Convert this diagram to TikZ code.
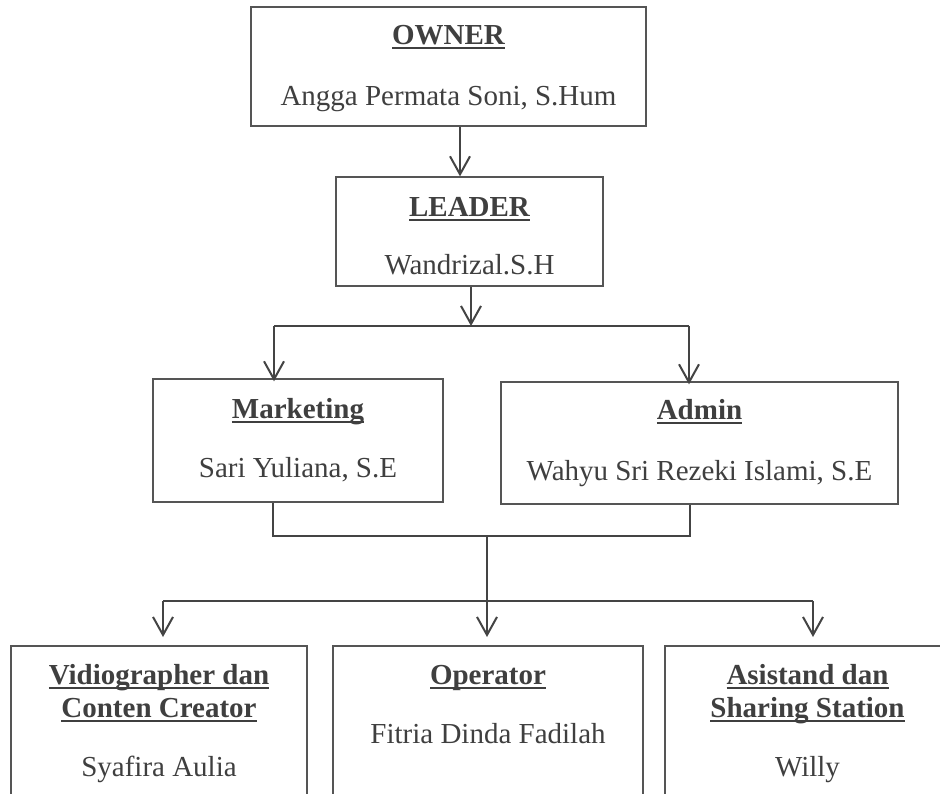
\documentclass[tikz,border=0pt]{standalone}
\usepackage{fontspec}
\setmainfont{Liberation Serif}
\usetikzlibrary{arrows.meta}
\definecolor{txt}{HTML}{3F3F3F}
\definecolor{ln}{HTML}{444444}
\definecolor{bx}{HTML}{555555}
\newcommand{\myul}[1]{\setbox0\hbox{#1}\rlap{\rule[-4.5pt]{\wd0}{2pt}}\box0}
\begin{document}
\begin{tikzpicture}[x=1pt,y=-1pt,
  boxn/.style={draw=bx, line width=1.3pt, rectangle, inner sep=0pt},
  tn/.style={anchor=base, text=txt, inner sep=0pt, font=\fontsize{29}{33}\selectfont},
  tb/.style={anchor=base, text=txt, inner sep=0pt, font=\fontsize{29}{33}\selectfont\bfseries},
  conn/.style={draw=ln, line width=2pt},
  arr/.style={conn, -{Straight Barb[length=18pt,width=20pt]}}]
\useasboundingbox (0,0) rectangle (940,794);
\fill[white] (0,0) rectangle (940,794);
\clip (0,0) rectangle (940,794);
% boxes
\node[boxn, minimum width=395pt, minimum height=119pt] (owner) at (448.5,66.5) {};
\node[boxn, minimum width=267pt, minimum height=109pt] (leader) at (469.5,231.5) {};
\node[boxn, minimum width=290pt, minimum height=123pt] (mkt) at (298,440.5) {};
\node[boxn, minimum width=397pt, minimum height=122pt] (adm) at (699.5,443) {};
\node[boxn, minimum width=296pt, minimum height=200pt] (vid) at (159,746) {};
\node[boxn, minimum width=310pt, minimum height=200pt] (opr) at (488,746) {};
\node[boxn, minimum width=285pt, minimum height=200pt] (asi) at (807.5,746) {};
% texts
\node[tb] (ownerT) at (448.5,45) {\myul{OWNER}};
\node[tn] (ownerN) at (448.5,106) {Angga Permata Soni, S.Hum};
\node[tb] (leaderT) at (469.5,217) {\myul{LEADER}};
\node[tn] (leaderN) at (469.5,275) {Wandrizal.S.H};
\node[tb] (mktT) at (298,418) {\myul{Marketing}};
\node[tn] (mktN) at (298,477) {Sari Yuliana, S.E};
\node[tb] (admT) at (699.5,419) {\myul{Admin}};
\node[tn] (admN) at (699.5,480) {Wahyu Sri Rezeki Islami, S.E};
\node[tb] (vidT1) at (159,684) {\myul{Vidiographer dan}};
\node[tb] (vidT2) at (159,717) {\myul{Conten Creator}};
\node[tn] (vidN) at (159,776) {Syafira Aulia};
\node[tb] (oprT) at (488,684) {\myul{Operator}};
\node[tn] (oprN) at (488,743) {Fitria Dinda Fadilah};
\node[tb] (asiT1) at (807.5,684) {\myul{Asistand dan}};
\node[tb] (asiT2) at (807.5,717) {\myul{Sharing Station}};
\node[tn] (asiN) at (807.5,776) {Willy};
% connector points
\coordinate (a0) at (460,130);
\coordinate (j1) at (471,326);
\coordinate (j1l) at (274,326);
\coordinate (j1r) at (689,326);
\coordinate (j2l) at (273,536);
\coordinate (j2r) at (690,536);
\coordinate (j3) at (487,536);
\coordinate (b2a) at (487,637);
\coordinate (j4l) at (163,601);
\coordinate (j4r) at (813,601);
% connectors
\draw[arr] (owner.south -| a0) -- (leader.north -| a0);
\draw[arr] (leader.south -| j1) -- (j1);
\draw[conn] (j1l) -- (j1r);
\draw[arr] (j1l) -- ([yshift=-3pt]mkt.north -| j1l);
\draw[arr] (j1r) -- ([yshift=-3pt]adm.north -| j1r);
\draw[conn] (mkt.south -| j2l) -- (j2l) -- (j2r) -- (adm.south -| j2r);
\draw[arr] (j3) -- (b2a);
\draw[conn] (j4l) -- (j4r);
\draw[arr] (j4l) -- (j4l |- b2a);
\draw[arr] (j4r) -- (j4r |- b2a);
\end{tikzpicture}
\end{document}
